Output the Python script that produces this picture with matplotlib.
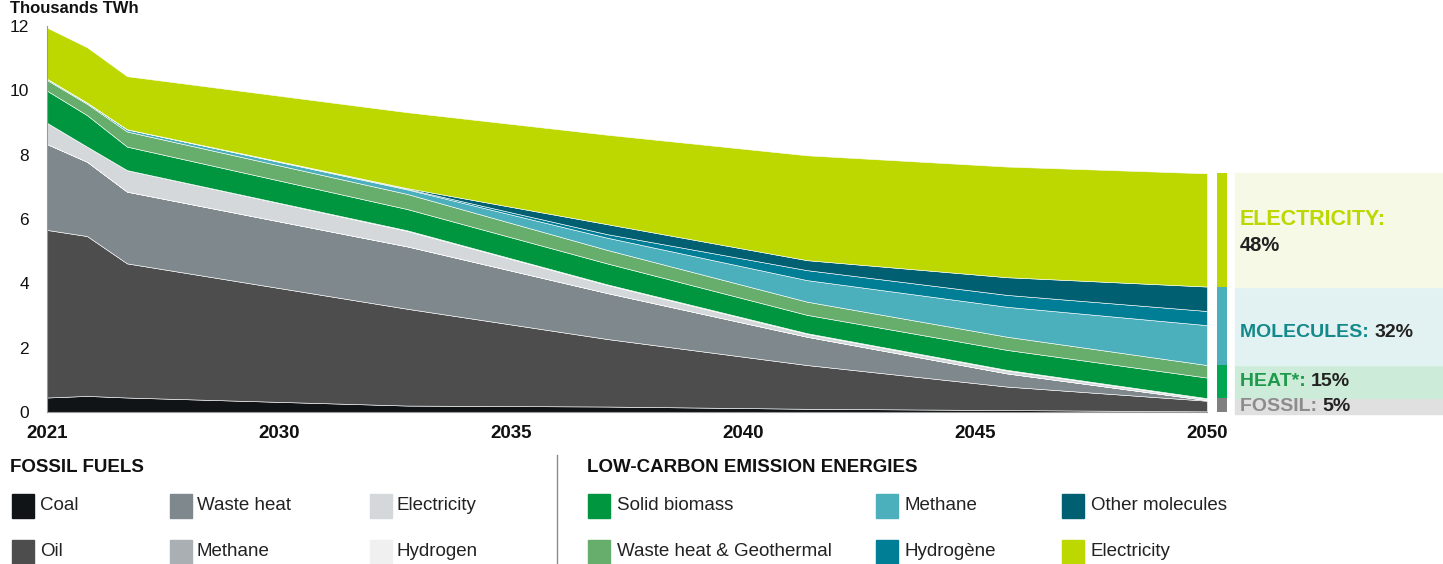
import numpy as np
import matplotlib.pyplot as plt
from matplotlib.patches import Rectangle
from matplotlib.lines import Line2D

plt.rcParams['font.family'] = ['Liberation Sans', 'DejaVu Sans']

W, H = 1443, 564

# thousands TWh
years = [2021, 2022, 2023, 2030, 2035, 2040, 2045, 2050]
tick_labels = ["2021", "2030", "2035", "2040", "2045", "2050"]

# fossil fuels
coal = [0.45, 0.50, 0.45, 0.20, 0.17, 0.10, 0.06, 0.02]
oil = [5.21, 4.97, 4.17, 3.01, 2.10, 1.36, 0.73, 0.33]
waste_heat = [2.67, 2.31, 2.23, 1.94, 1.43, 0.88, 0.41, 0.02]
methane_fossil = [0.0, 0.0, 0.0, 0.0, 0.0, 0.0, 0.0, 0.0]
electricity_fossil = [0.66, 0.47, 0.67, 0.48, 0.25, 0.09, 0.09, 0.04]
hydrogen_fossil = [0.0, 0.0, 0.0, 0.02, 0.02, 0.02, 0.02, 0.02]

# low-carbon emission energies
solid_biomass = [1.00, 0.98, 0.73, 0.66, 0.65, 0.57, 0.62, 0.64]
geothermal = [0.33, 0.35, 0.47, 0.47, 0.42, 0.41, 0.41, 0.39]
methane = [0.04, 0.04, 0.07, 0.14, 0.38, 0.67, 0.93, 1.24]
hydrogene = [0.0, 0.0, 0.0, 0.02, 0.11, 0.31, 0.37, 0.44]
other_molecules = [0.0, 0.0, 0.0, 0.02, 0.31, 0.31, 0.55, 0.76]
electricity = [1.59, 1.72, 1.65, 2.36, 2.78, 3.26, 3.44, 3.52]

fossil_names = ["Coal", "Oil", "Waste heat", "Methane", "Electricity", "Hydrogen"]
fossil_values = [coal, oil, waste_heat, methane_fossil, electricity_fossil, hydrogen_fossil]
fossil_colors = ["#111417", "#4d4d4d", "#7f888d", "#a9afb2", "#d5d8da", "#f0f0f0"]

low_names = ["Solid biomass", "Waste heat & Geothermal", "Methane", "Hydrogène",
             "Other molecules", "Electricity"]
low_values = [solid_biomass, geothermal, methane, hydrogene, other_molecules, electricity]
low_colors = ["#00963f", "#67ad6c", "#4bafbc", "#007e95", "#005f70", "#bcd800"]

share_names = ["FOSSIL: ", "HEAT*: ", "MOLECULES: ", "ELECTRICITY:"]
share_labels = ["5%", "15%", "32%", "48%"]
share_colors = ["#808080", "#00a651", "#4bafbc", "#bcd800"]
share_text_colors = ["#8c8c8c", "#1f9a4c", "#14898b", "#bcd800"]
share_box_colors = ["#e0e0e0", "#ccecd9", "#e2f2f3", "#f6f9e6"]


def fx(px):
    return px / W


def fy(py):
    return 1 - py / H


fig = plt.figure(figsize=(W / 100, H / 100), dpi=100)

# main stacked area
ax = fig.add_axes([fx(47), fy(412), fx(1207) - fx(47), fy(26) - fy(412)])
ax.stackplot(years, *(fossil_values + low_values), colors=fossil_colors + low_colors,
             edgecolor="white", linewidth=0.4)
ax.set_xlim(2021, 2050)
ax.set_ylim(0, 12)
ax.set_yticks(range(0, 13, 2))
ax.set_xticks(np.linspace(2021, 2050, len(tick_labels)))
ax.set_xticklabels(tick_labels, fontweight="bold")
ax.tick_params(axis="x", length=0, labelsize=13.5, pad=9, colors="#111111")
ax.tick_params(axis="y", length=0, labelsize=12.5, pad=13, colors="#111111")
for s in ["top", "right"]:
    ax.spines[s].set_visible(False)
for s in ["left", "bottom"]:
    ax.spines[s].set_color("#9a9a9a")
    ax.spines[s].set_linewidth(0.8)

fig.text(fx(10), fy(1), "Thousands TWh", fontsize=12, fontweight="bold",
         va="top", color="#111111")

# 2050 split on the right
sx = fig.add_axes([fx(1207), fy(412), 1 - fx(1207), fy(26) - fy(412)])
sx.set_xlim(1207, 1443)
sx.set_ylim(0, 12)
sx.axis("off")

fossil_2050 = sum(v[-1] for v in fossil_values)
heat_2050 = solid_biomass[-1] + geothermal[-1]
molecules_2050 = methane[-1] + hydrogene[-1] + other_molecules[-1]
elec_2050 = electricity[-1]
groups = [fossil_2050, heat_2050, molecules_2050, elec_2050]
bottoms = np.concatenate([[0], np.cumsum(groups)[:-1]])

sx.bar(1222, groups, bottom=bottoms, width=10, color=share_colors, clip_on=False)

for i, (g, b) in enumerate(zip(groups, bottoms)):
    lo = b if i > 0 else -0.07
    box = Rectangle((1235, lo), 208, b + g - lo, color=share_box_colors[i], clip_on=False)
    sx.add_patch(box)
    mid = (lo + b + g) / 2
    if i == 3:
        sx.text(1240, mid + 0.33, share_names[i], fontsize=15.5, fontweight="bold",
                color=share_text_colors[i], va="center")
        sx.text(1240, mid - 0.47, share_labels[i], fontsize=14.5, fontweight="bold",
                color="#222222", va="center")
    else:
        if i == 2:
            mid -= 0.2
        t1 = sx.text(1240, mid, share_names[i], fontsize=14, fontweight="bold",
                     color=share_text_colors[i], va="center", clip_on=False)
        t2 = sx.annotate(share_labels[i], xy=(1, 0), xycoords=t1, va="bottom",
                         fontsize=14, fontweight="bold", color="#222222")
        if i == 0:
            t1.set_clip_path(box)
            t2.set_clip_path(box)

# legend
fig.text(fx(10), fy(467), "FOSSIL FUELS", fontsize=13.5, fontweight="bold",
         va="center", color="#111111")
fig.text(fx(587), fy(467), "LOW-CARBON EMISSION ENERGIES", fontsize=13.5,
         fontweight="bold", va="center", color="#111111")
fig.add_artist(Line2D([fx(557), fx(557)], [fy(455), fy(564)], color="#8a8a8a", lw=1))

row_y = [506, 552]


def legend_block(names, colors, sq_x, txt_x):
    for k, (name, c) in enumerate(zip(names, colors)):
        col, row = k // 2, k % 2
        y = row_y[row]
        fig.add_artist(Rectangle((fx(sq_x[col]), fy(y + 12)), 22 / W, 24 / H,
                                 transform=fig.transFigure, color=c))
        fig.text(fx(txt_x[col]), fy(y), name, fontsize=13.5, va="center", color="#222222")


legend_block(fossil_names, fossil_colors, [12, 170, 370], [40, 197, 397])
legend_block(low_names, low_colors, [588, 876, 1062], [617, 905, 1091])

fig.savefig("out.png", dpi=100)
